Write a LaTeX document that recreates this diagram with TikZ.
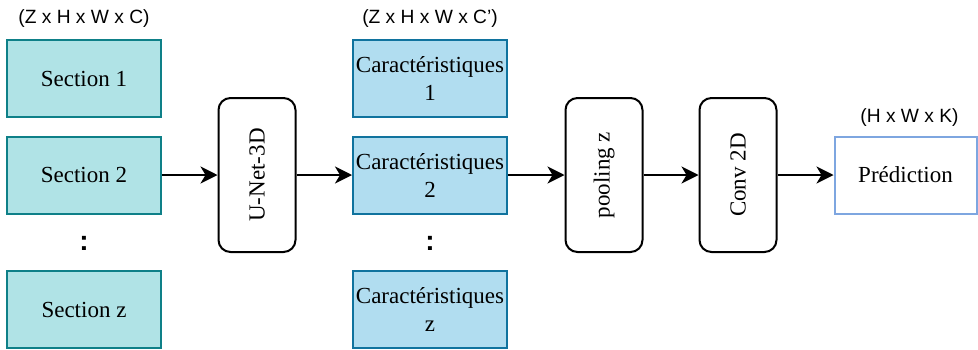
\documentclass[tikz,border=0pt]{standalone}
\usepackage{fontspec}
\setmainfont{Liberation Serif}
\setsansfont{Liberation Sans}
\usetikzlibrary{positioning,arrows.meta}
\definecolor{secfill}{HTML}{B0E3E6}
\definecolor{secdraw}{HTML}{0E8088}
\definecolor{carfill}{HTML}{B1DDF0}
\definecolor{cardraw}{HTML}{10739E}
\definecolor{preddraw}{HTML}{7EA6E0}
\tikzset{
  flux/.style={-{Stealth[length=8.5pt,width=8.5pt,inset=2.5pt]},line width=1pt},
  section/.style={draw=secdraw,fill=secfill,line width=1pt,minimum width=77pt,minimum height=38.5pt,
    inner sep=1pt,align=center,font=\fontsize{11.5}{14}\selectfont},
  caract/.style={section,draw=cardraw,fill=carfill},
}

\begin{document}
\begin{tikzpicture}[on grid,
   ope/.style={draw,rounded corners=6pt,line width=1pt,minimum width=77pt,minimum height=38.5pt,
     rotate=90,inner sep=1pt,font=\fontsize{11.5}{14}\selectfont},
   dims/.style={inner sep=0pt,font=\sffamily\fontsize{9.6}{11}\selectfont},
   points/.style={inner sep=0pt,font=\sffamily\bfseries\fontsize{14}{14}\selectfont}]
  \useasboundingbox (-42pt,-87pt) rectangle (447pt,87.5pt);
  % entrees
  \node[section] (sec2) at (0,0) {Section 2};
  \node[section] (sec1) [above=48.25pt of sec2] {Section 1};
  \node[points] (pts1) [below=34pt of sec2] {:};
  \node[section] (secz) [below=67.25pt of sec2] {Section z};
  \node[dims] (dimin) [above=29.75pt of sec1] {(Z x H x W x C)};
  % reseau
  \node[ope] (unet) [right=86.5pt of sec2] {U-Net-3D};
  \node[caract] (car2) [right=86.5pt of unet] {Caractéristiques\\2};
  \node[caract] (car1) [above=48.25pt of car2] {Caractéristiques\\1};
  \node[points] (pts2) [below=34pt of car2] {:};
  \node[caract] (carz) [below=67.25pt of car2] {Caractéristiques\\z};
  \node[dims] (dimcar) [above=29.75pt of car1] {(Z x H x W x C')};
  \node[ope] (pool) [right=87pt of car2] {pooling z};
  \node[ope] (conv) [right=67pt of pool] {Conv 2D};
  \node[section,draw=preddraw,fill=white,minimum width=71pt] (pred) [right=83.75pt of conv] {Prédiction};
  \node[dims] (dimout) [above=28.5pt of pred, xshift=2pt] {(H x W x K)};
  % fleches
  \draw[flux] (sec2) -- (unet);
  \draw[flux] (unet) -- (car2);
  \draw[flux] (car2) -- (pool);
  \draw[flux] (pool) -- (conv);
  \draw[flux] (conv) -- (pred);
\end{tikzpicture}
\end{document}
